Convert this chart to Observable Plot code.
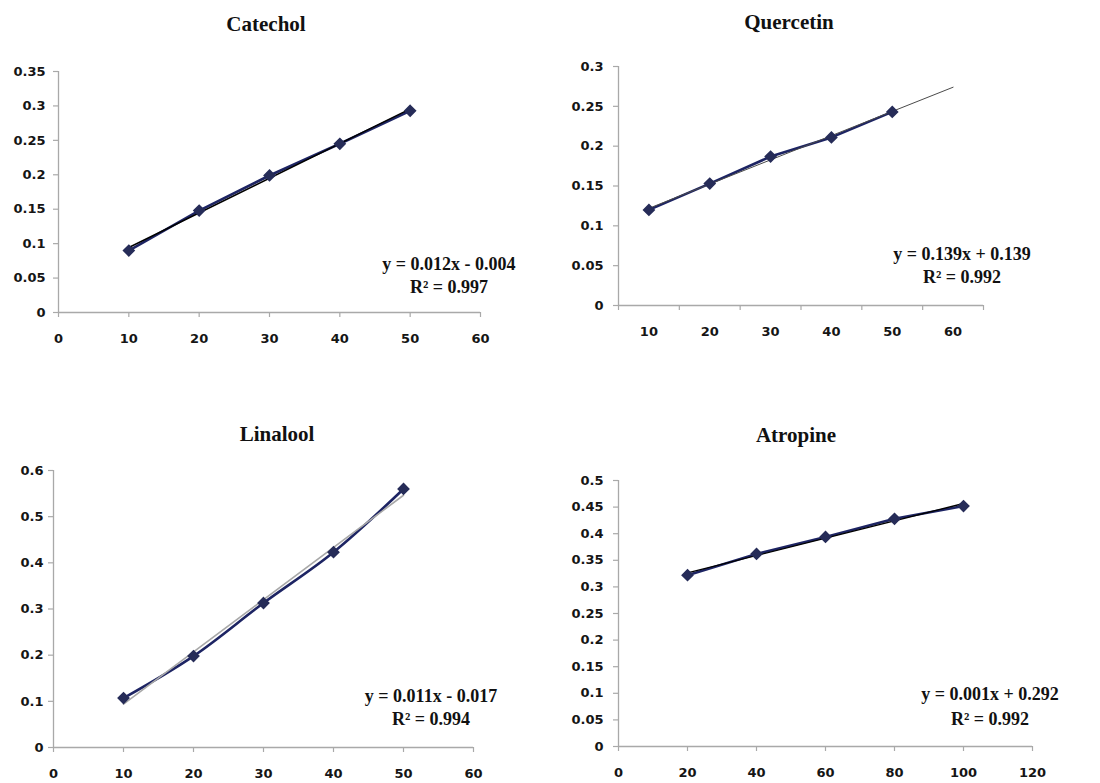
<!DOCTYPE html>
<html>
<head>
<meta charset="utf-8">
<script src="https://cdn.jsdelivr.net/npm/d3@7"></script>
<script src="https://cdn.jsdelivr.net/npm/@observablehq/plot@0.6"></script>
<style>
  body { margin: 0; background: #fff; }
  #root { position: relative; width: 1100px; height: 783px; overflow: hidden; background: #fff; }
  .panel { position: absolute; }
  .title { position: absolute; font-family: "Liberation Serif", serif; font-weight: bold; font-size: 21px; line-height: 1; color: #111; transform: translateX(-50%); white-space: nowrap; }
  .eq { position: absolute; font-family: "Liberation Serif", serif; font-weight: bold; font-size: 18px; line-height: 1; color: #111; transform: translateX(-50%); white-space: nowrap; }
</style>
</head>
<body>
<div id="root"></div>
<script>
// ---- Data ----
const catecholX = [10, 20, 30, 40, 50];
const catecholY = [0.090, 0.148, 0.199, 0.245, 0.293];

const quercetinX = [10, 20, 30, 40, 50];
const quercetinY = [0.120, 0.153, 0.187, 0.211, 0.243];

const linaloolX = [10, 20, 30, 40, 50];
const linaloolY = [0.107, 0.198, 0.313, 0.423, 0.560];

const atropineX = [20, 40, 60, 80, 100];
const atropineY = [0.322, 0.362, 0.394, 0.428, 0.452];

const titles = ["Catechol", "Quercetin", "Linalool", "Atropine"];
const eqLine1 = ["y = 0.012x - 0.004", "y = 0.139x + 0.139", "y = 0.011x - 0.017", "y = 0.001x + 0.292"];
const eqLine2 = ["R\u00b2 = 0.997", "R\u00b2 = 0.992", "R\u00b2 = 0.994", "R\u00b2 = 0.992"];

// tick labels
const catXTicks = [0, 10, 20, 30, 40, 50, 60];
const catYTicks = [0, 0.05, 0.1, 0.15, 0.2, 0.25, 0.3, 0.35];
const querXTicks = [10, 20, 30, 40, 50, 60];
const querXBounds = [5, 15, 25, 35, 45, 55, 65];
const querYTicks = [0, 0.05, 0.1, 0.15, 0.2, 0.25, 0.3];
const linXTicks = [0, 10, 20, 30, 40, 50, 60];
const linYTicks = [0, 0.1, 0.2, 0.3, 0.4, 0.5, 0.6];
const atrXTicks = [0, 20, 40, 60, 80, 100, 120];
const atrYTicks = [0, 0.05, 0.1, 0.15, 0.2, 0.25, 0.3, 0.35, 0.4, 0.45, 0.5];

// trendline forecast end (Quercetin trend extends to 60)
const trendEnds = [50, 60, 50, 100];

// ---- helpers ----
function zip(xs, ys) { return xs.map((x, i) => ({x, y: ys[i]})); }
function trend(xs, ys, xEnd) {
  const mx = d3.mean(xs), my = d3.mean(ys);
  const b = d3.sum(xs, (x, i) => (x - mx) * (ys[i] - my)) / d3.sum(xs, x => (x - mx) ** 2);
  const a = my - b * mx;
  const x0 = d3.min(xs);
  return [{x: x0, y: a + b * x0}, {x: xEnd, y: a + b * xEnd}];
}

const root = document.getElementById("root");
const AXIS = "#a9a9a9";
const INK = "#151515";
const NAVY = "#1d2463";

function panel(cfg) {
  const data = zip(cfg.xs, cfg.ys);
  const tr = trend(cfg.xs, cfg.ys, cfg.trendEnd);
  const marks = [
    Plot.ruleX([cfg.xDomain[0]], {stroke: AXIS, strokeWidth: 1.3}),
    Plot.ruleY([cfg.yDomain[0]], {stroke: AXIS, strokeWidth: 1.3}),
    Plot.axisY({ticks: cfg.yTicks, tickFormat: d => String(d), tickSize: 5, tickPadding: cfg.yPad,
      stroke: AXIS, strokeWidth: 1.2, fill: INK, label: null}),
  ];
  if (cfg.xBounds) {
    marks.push(Plot.axisX({ticks: cfg.xBounds, tickFormat: () => "", tickSize: 5, stroke: AXIS, strokeWidth: 1.2, label: null}));
    marks.push(Plot.axisX({ticks: cfg.xTicks, tickFormat: d => String(d), tickSize: 0, tickPadding: 21, fill: INK, label: null}));
  } else {
    marks.push(Plot.axisX({ticks: cfg.xTicks, tickFormat: d => String(d), tickSize: 5, tickPadding: 16,
      stroke: AXIS, strokeWidth: 1.2, fill: INK, label: null}));
  }
  marks.push(Plot.line(data, {x: "x", y: "y", stroke: NAVY, strokeWidth: 2.6, curve: cfg.curve || "linear"}));
  marks.push(Plot.line(tr, {x: "x", y: "y", stroke: cfg.trendColor, strokeWidth: cfg.trendWidth}));
  marks.push(Plot.dot(data, {x: "x", y: "y", symbol: "diamond2", r: 4.8, fill: "#262c58", stroke: "#262c58"}));

  const chart = Plot.plot({
    width: cfg.width, height: cfg.height,
    marginLeft: cfg.ml, marginRight: cfg.mr, marginTop: cfg.mt, marginBottom: cfg.mb,
    style: {fontFamily: "DejaVu Sans", fontWeight: "bold", fontSize: "13px", color: INK, background: "transparent", overflow: "visible"},
    x: {domain: cfg.xDomain},
    y: {domain: cfg.yDomain},
    marks
  });
  const div = document.createElement("div");
  div.className = "panel";
  div.style.left = cfg.left + "px";
  div.style.top = cfg.top + "px";
  div.appendChild(chart);
  root.appendChild(div);

  const t = document.createElement("div");
  t.className = "title";
  t.textContent = cfg.title;
  t.style.left = cfg.titleX + "px";
  t.style.top = cfg.titleY + "px";
  root.appendChild(t);

  [[cfg.eq1, cfg.eqY1], [cfg.eq2, cfg.eqY2]].forEach(([txt, y]) => {
    const e = document.createElement("div");
    e.className = "eq";
    e.textContent = txt;
    e.style.left = cfg.eqX + "px";
    e.style.top = y + "px";
    root.appendChild(e);
  });
}

panel({
  left: 0, top: 40, width: 520, height: 320, ml: 58, mr: 40, mt: 31, mb: 48,
  xs: catecholX, ys: catecholY, xDomain: [0, 60], yDomain: [0, 0.35],
  xTicks: catXTicks, yTicks: catYTicks, yPad: 8,
  trendEnd: trendEnds[0], trendColor: "#000", trendWidth: 1.4,
  title: titles[0], titleX: 266, titleY: 14,
  eq1: eqLine1[0], eq2: eqLine2[0], eqX: 449, eqY1: 255, eqY2: 278
});

panel({
  left: 540, top: 40, width: 520, height: 320, ml: 78, mr: 77, mt: 26, mb: 55,
  xs: quercetinX, ys: quercetinY, xDomain: [5, 65], yDomain: [0, 0.3],
  xTicks: querXTicks, xBounds: querXBounds, yTicks: querYTicks, yPad: 10,
  trendEnd: trendEnds[1], trendColor: "#4a4a4a", trendWidth: 1,
  title: titles[1], titleX: 789, titleY: 12,
  eq1: eqLine1[1], eq2: eqLine2[1], eqX: 962, eqY1: 245, eqY2: 268
});

panel({
  left: 0, top: 450, width: 520, height: 333, ml: 53, mr: 47, mt: 20, mb: 36,
  xs: linaloolX, ys: linaloolY, xDomain: [0, 60], yDomain: [0, 0.6],
  xTicks: linXTicks, yTicks: linYTicks, yPad: 5, curve: "catmull-rom",
  trendEnd: trendEnds[2], trendColor: "#a8a8a8", trendWidth: 1.6,
  title: titles[2], titleX: 277, titleY: 424,
  eq1: eqLine1[2], eq2: eqLine2[2], eqX: 431, eqY1: 687, eqY2: 710
});

panel({
  left: 540, top: 450, width: 520, height: 333, ml: 78, mr: 28, mt: 30, mb: 37,
  xs: atropineX, ys: atropineY, xDomain: [0, 120], yDomain: [0, 0.5],
  xTicks: atrXTicks, yTicks: atrYTicks, yPad: 10,
  trendEnd: trendEnds[3], trendColor: "#000", trendWidth: 1.4,
  title: titles[3], titleX: 796, titleY: 425,
  eq1: eqLine1[3], eq2: eqLine2[3], eqX: 990, eqY1: 685, eqY2: 710
});
</script>
</body>
</html>
